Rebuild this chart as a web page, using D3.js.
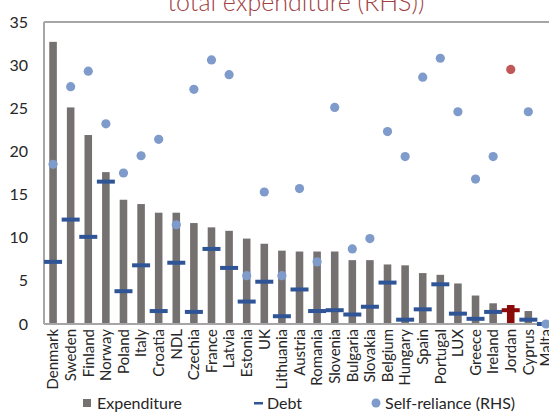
<!DOCTYPE html>
<meta charset="utf-8">
<style>
body { margin: 0; background: #fff; }
text { font-family: Lato, "Liberation Sans", sans-serif; }
.axis-line { stroke: #a6a6a6; stroke-width: 2; }
</style>
<body>
<svg width="549" height="412"></svg>
<script src="https://cdn.jsdelivr.net/npm/d3@7"></script>
<script>
var countries = ["Denmark","Sweden","Finland","Norway","Poland","Italy","Croatia","NDL","Czechia","France",
  "Latvia","Estonia","UK","Lithuania","Austria","Romania","Slovenia","Bulgaria","Slovakia","Belgium",
  "Hungary","Spain","Portugal","LUX","Greece","Ireland","Jordan","Cyprus","Malta"];

var expenditure = [32.7,25.1,21.9,17.6,14.4,13.9,12.9,12.9,11.7,11.2,
  10.8,9.9,9.3,8.5,8.4,8.4,8.4,7.4,7.4,6.9,
  6.8,5.9,5.7,4.7,3.3,2.4,2.2,1.5,0.2];

var debt = [7.2,12.1,10.1,16.5,3.8,6.8,1.5,7.1,1.4,8.7,
  6.5,2.6,4.9,0.9,4.0,1.5,1.6,1.1,2.0,4.8,
  0.5,1.7,4.6,1.2,0.6,1.4,1.6,0.5,0.0];

var selfReliance = [18.5,27.5,29.3,23.2,17.5,19.5,21.4,11.5,27.2,30.6,
  28.9,5.6,15.3,5.6,15.7,7.2,25.1,8.7,9.9,22.3,
  19.4,28.6,30.8,24.6,16.8,19.4,29.5,24.6,0.0];

var yTicks = [0,5,10,15,20,25,30,35];
var highlight = "Jordan";

var svg = d3.select("svg"),
    pLeft = 44, pRight = 555, pTop = 22, pBottom = 324;

var x = d3.scaleBand()
    .domain(countries)
    .range([pLeft, pRight])
    .paddingInner(0.57)
    .paddingOuter(0.3);

var y = d3.scaleLinear().domain([0, 35]).range([pBottom, pTop]);
// right-hand axis sits off the picture; same span as the left one
var yR = d3.scaleLinear().domain([0, 35]).range([pBottom, pTop]);

var rows = countries.map(function(c, i) {
  return {c: c, exp: expenditure[i], debt: debt[i], sr: selfReliance[i]};
});

// title, clipped at the top like the source
svg.append("text")
    .attr("x", 296).attr("y", 11)
    .attr("text-anchor", "middle")
    .attr("fill", "#a0413f")
    .style("font-size", "25px")
    .style("font-weight", "300")
    .text("total expenditure (RHS))");

// frame
svg.append("line").attr("class", "axis-line")
    .attr("x1", pLeft).attr("x2", pLeft).attr("y1", pTop).attr("y2", pBottom);
svg.append("line").attr("class", "axis-line")
    .attr("x1", pLeft).attr("x2", 549).attr("y1", pTop).attr("y2", pTop);

// y axis labels
var yAxis = d3.axisLeft(y).tickValues(yTicks).tickSize(0).tickPadding(16);
svg.append("g")
    .attr("transform", "translate(" + pLeft + ",0)")
    .call(yAxis)
    .call(function(g) { g.select(".domain").remove(); })
    .selectAll("text")
    .style("font-family", "Lato, sans-serif")
    .style("font-size", "16px")
    .attr("fill", "#262626");

// bars
svg.append("g").selectAll("rect")
    .data(rows).enter().append("rect")
    .attr("x", function(d) { return x(d.c); })
    .attr("y", function(d) { return y(d.exp); })
    .attr("width", x.bandwidth())
    .attr("height", function(d) { return y(0) - y(d.exp); })
    .attr("fill", function(d) { return d.c == highlight ? "#8b0a0a" : "#767171"; });

// baseline
svg.append("line").attr("class", "axis-line")
    .attr("x1", pLeft).attr("x2", 549).attr("y1", pBottom).attr("y2", pBottom);

// debt markers
var mw = 18;
svg.append("g").selectAll("rect")
    .data(rows).enter().append("rect")
    .attr("x", function(d) { return x(d.c) + x.bandwidth() / 2 - mw / 2; })
    .attr("y", function(d) { return y(d.debt) - 2; })
    .attr("width", mw)
    .attr("height", 4)
    .attr("fill", function(d) { return d.c == highlight ? "#8b0a0a" : "#2f5597"; });

// self-reliance dots
svg.append("g").selectAll("circle")
    .data(rows).enter().append("circle")
    .attr("cx", function(d) { return x(d.c) + x.bandwidth() / 2; })
    .attr("cy", function(d) { return yR(d.sr); })
    .attr("r", 4.6)
    .attr("fill", function(d) { return d.c == highlight ? "#c0585a" : "#7f9bcb"; });

// category labels
svg.append("g").selectAll("text")
    .data(countries).enter().append("text")
    .attr("transform", function(c) {
      return "translate(" + (x(c) + x.bandwidth() / 2) + "," + (pBottom + 5) + ") rotate(-90)";
    })
    .attr("text-anchor", "end")
    .attr("dy", "0.35em")
    .attr("fill", "#262626")
    .style("font-size", "15px")
    .text(function(c) { return c; });

// legend
var lg = svg.append("g").attr("transform", "translate(0,403)");
lg.append("rect").attr("x", 83).attr("y", -4).attr("width", 8).attr("height", 8).attr("fill", "#767171");
lg.append("text").attr("x", 97).attr("dy", "0.35em").style("font-size", "16px").attr("fill", "#262626").text("Expenditure");
lg.append("rect").attr("x", 254).attr("y", -1).attr("width", 9).attr("height", 2.5).attr("fill", "#2f5597");
lg.append("text").attr("x", 267).attr("dy", "0.35em").style("font-size", "16px").attr("fill", "#262626").text("Debt");
lg.append("circle").attr("cx", 376).attr("cy", 0).attr("r", 4.5).attr("fill", "#7f9bcb");
lg.append("text").attr("x", 385).attr("dy", "0.35em").style("font-size", "16px").attr("fill", "#262626").text("Self-reliance (RHS)");
</script>
</body>
